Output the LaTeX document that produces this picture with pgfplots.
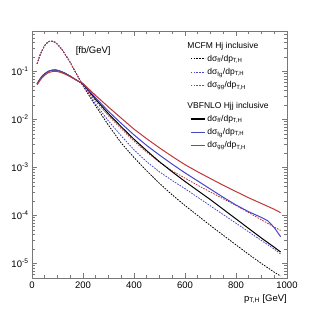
\documentclass[border=0pt]{standalone}
\usepackage{pgfplots}
\pgfplotsset{compat=1.18}
\usepackage{fontspec}
\setmainfont{Liberation Sans}
\definecolor{axgray}{RGB}{120,120,120}
\definecolor{myblue}{RGB}{70,70,200}
\definecolor{myred}{RGB}{190,55,55}
\begin{document}
\begin{tikzpicture}
\begin{axis}[
  scale only axis, width=255pt, height=247pt,
  xmin=0, xmax=1000, ymin=5e-6, ymax=0.7,
  ymode=log,
  axis line style={axgray, line width=0.8pt},
  tick style={axgray, line width=0.6pt},
  major tick length=5pt, minor tick length=3pt,
  tick align=inside,
  xtick={0,200,400,600,800,1000}, minor x tick num=3,
  xticklabel style={/pgf/number format/1000 sep={}},
  ytick={1e-5,1e-4,1e-3,1e-2,1e-1},
  yticklabels={10\textsuperscript{-5},10\textsuperscript{-4},10\textsuperscript{-3},10\textsuperscript{-2},10\textsuperscript{-1}},
  minor ytick={6e-6,7e-6,8e-6,9e-6,2e-5,3e-5,4e-5,5e-5,6e-5,7e-5,8e-5,9e-5,2e-4,3e-4,4e-4,5e-4,6e-4,7e-4,8e-4,9e-4,2e-3,3e-3,4e-3,5e-3,6e-3,7e-3,8e-3,9e-3,2e-2,3e-2,4e-2,5e-2,6e-2,7e-2,8e-2,9e-2,2e-1,3e-1,4e-1,5e-1,6e-1,7e-1},
  ticklabel style={font=\fontsize{9.5}{11}\selectfont, black},
  /pgf/number format/assume math mode=true,
  legend style={draw=none, fill=none, at={(rel axis cs:0.62,0.965)}, anchor=north west, font=\fontsize{8.5}{10}\selectfont, row sep=1.6pt, inner sep=0pt},
  legend cell align=left,
  legend image code/.code={\draw[#1] (0pt,0pt) -- (14pt,0pt);},
]
% MCFM dashed
\addplot[forget plot, black, line width=0.8pt, dash pattern=on 1.6pt off 1.2pt] coordinates {
(20,0.145)(30,0.21)(40,0.28)(50,0.35)(60,0.40)(70,0.43)(80,0.43)(90,0.41)(100,0.37)(115,0.30)(130,0.23)(150,0.155)(175,0.088)(200,0.0501)
(250,1.905e-2)(300,7.59e-3)(350,3.24e-3)(400,1.62e-3)(450,8.51e-4)(500,4.68e-4)(550,2.69e-4)(600,1.62e-4)(650,1.0e-4)(700,6.17e-5)(750,3.89e-5)(800,2.45e-5)(850,1.55e-5)(900,1.0e-5)(950,6.61e-6)(975,5.5e-6)};
\addplot[forget plot, myblue, line width=0.8pt, dash pattern=on 1.6pt off 1.2pt] coordinates {
(20,0.145)(30,0.21)(40,0.28)(50,0.35)(60,0.40)(70,0.43)(80,0.43)(90,0.41)(100,0.37)(115,0.30)(130,0.23)(150,0.155)(175,0.088)(200,0.0513)
(250,2.09e-2)(300,9.33e-3)(350,4.57e-3)(400,2.34e-3)(450,1.318e-3)(500,8.13e-4)(550,5.37e-4)(600,3.63e-4)(650,2.40e-4)(700,1.585e-4)(750,1.047e-4)(800,6.92e-5)(850,4.57e-5)(900,3.02e-5)(950,2.0e-5)(975,1.585e-5)};
\addplot[forget plot, myred, line width=0.8pt, dash pattern=on 1.6pt off 1.2pt] coordinates {
(20,0.145)(30,0.21)(40,0.28)(50,0.35)(60,0.40)(70,0.43)(80,0.43)(90,0.41)(100,0.37)(115,0.30)(130,0.23)(150,0.155)(175,0.088)(200,0.0513)
(250,2.40e-2)(300,1.20e-2)(350,6.46e-3)(400,3.55e-3)(450,2.09e-3)(500,1.29e-3)(550,8.51e-4)(600,6.03e-4)(650,4.27e-4)(700,3.09e-4)(750,2.24e-4)(800,1.62e-4)(850,1.148e-4)(900,8.13e-5)(950,5.75e-5)(975,4.9e-5)};
% VBFNLO solid
\addplot[forget plot, black, line width=1pt] coordinates {
(20,0.055)(30,0.068)(40,0.080)(50,0.090)(60,0.098)(70,0.104)(80,0.107)(90,0.108)(100,0.106)(115,0.100)(130,0.092)(150,0.080)(175,0.066)(200,0.0550)
(250,2.63e-2)(300,1.32e-2)(350,7.08e-3)(400,3.89e-3)(450,2.24e-3)(500,1.32e-3)(550,8.13e-4)(600,5.13e-4)(650,3.31e-4)(700,2.14e-4)(750,1.35e-4)(800,8.51e-5)(850,5.37e-5)(900,3.39e-5)(950,2.19e-5)(975,1.74e-5)};
\addplot[forget plot, myblue, line width=1pt] coordinates {
(20,0.055)(30,0.068)(40,0.080)(50,0.090)(60,0.098)(70,0.104)(80,0.107)(90,0.108)(100,0.106)(115,0.100)(130,0.092)(150,0.080)(175,0.066)(200,0.0562)
(250,2.82e-2)(300,1.48e-2)(350,8.32e-3)(400,4.79e-3)(450,2.88e-3)(500,1.82e-3)(550,1.175e-3)(600,7.76e-4)(650,5.25e-4)(700,3.55e-4)(750,2.40e-4)(800,1.66e-4)(850,1.20e-4)(900,9.12e-5)(925,7.76e-5)(950,5.62e-5)(975,3.63e-5)};
\addplot[forget plot, myred, line width=1pt] coordinates {
(20,0.053)(30,0.064)(40,0.075)(50,0.084)(60,0.092)(70,0.097)(80,0.100)(90,0.101)(100,0.100)(115,0.095)(130,0.088)(150,0.078)(175,0.066)(200,0.0562)
(250,3.16e-2)(300,1.82e-2)(350,1.07e-2)(400,6.31e-3)(450,3.98e-3)(500,2.57e-3)(550,1.70e-3)(600,1.148e-3)(650,8.13e-4)(700,5.89e-4)(750,4.27e-4)(800,3.16e-4)(850,2.34e-4)(900,1.78e-4)(950,1.35e-4)(975,1.148e-4)};
% legend
\addlegendimage{empty legend}
\addlegendentry{\hspace*{-20pt}MCFM Hj inclusive}
\addlegendimage{black, line width=1pt, dash pattern=on 1.6pt off 1.2pt}
\addlegendentry{dσ\textsubscript{ff}/dp\textsubscript{T,H}}
\addlegendimage{myblue, line width=1pt, dash pattern=on 1.6pt off 1.2pt}
\addlegendentry{dσ\textsubscript{fg}/dp\textsubscript{T,H}}
\addlegendimage{legend image code/.code={\draw[draw={rgb,255:red,190;green,55;blue,55}, line width=1pt, dash pattern=on 1.6pt off 1.2pt] (0pt,0pt) -- (14pt,0pt);}}
\addlegendentry{dσ\textsubscript{gg}/dp\textsubscript{T,H}}
\addlegendimage{empty legend}
\addlegendentry{}
\addlegendimage{empty legend}
\addlegendentry{\hspace*{-20pt}VBFNLO Hjj inclusive}
\addlegendimage{black, line width=1.2pt}
\addlegendentry{dσ\textsubscript{ff}/dp\textsubscript{T,H}}
\addlegendimage{myblue, line width=1.2pt}
\addlegendentry{dσ\textsubscript{fg}/dp\textsubscript{T,H}}
\addlegendimage{legend image code/.code={\draw[draw={rgb,255:red,190;green,55;blue,55}, line width=1.2pt] (0pt,0pt) -- (14pt,0pt);}}
\addlegendentry{dσ\textsubscript{gg}/dp\textsubscript{T,H}}
\node[font=\fontsize{9.5}{11}\selectfont] at (rel axis cs:0.24,0.919) {[fb/GeV]};
\end{axis}
\node[font=\fontsize{9.5}{11}\selectfont, anchor=north east, inner sep=0pt] at ([yshift=-16pt]current axis.south east) {p\textsubscript{T,H} [GeV]};
\pgfresetboundingbox
\path (current axis.south west) ++(-32pt,-32pt) coordinate (bbl);
\path (current axis.north east) ++(32pt,31pt) coordinate (btr);
\useasboundingbox (bbl) rectangle (btr);
\end{tikzpicture}
\end{document}
